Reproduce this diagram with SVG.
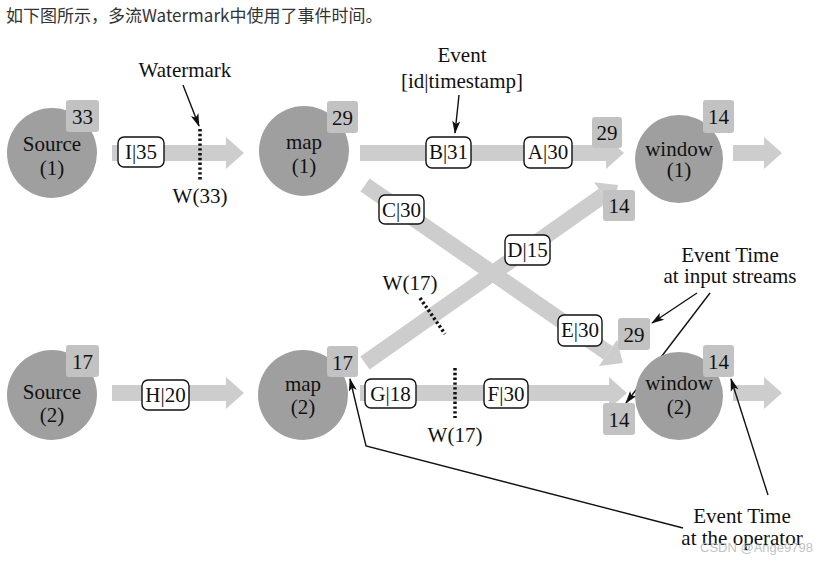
<svg xmlns="http://www.w3.org/2000/svg" width="832" height="562" viewBox="0 0 832 562">
<style>
.t{font-family:"Liberation Serif","Times New Roman",serif;font-size:21px;fill:#111;text-anchor:middle}
.band{stroke:#cdcdcd;stroke-width:16;fill:none}
.node{fill:#9f9f9f}
.badge{fill:#c2c2c2}
.lbl{fill:#fff;stroke:#111;stroke-width:1.4}
.dot{stroke:#111;stroke-width:3.5;stroke-dasharray:2.4 2.4;fill:none}
.ptr{stroke:#111;stroke-width:1.4;fill:none}
</style>
<defs>
<marker id="bh" markerUnits="userSpaceOnUse" markerWidth="20" markerHeight="32" refX="0" refY="16" orient="auto" overflow="visible"><path d="M0,0 L18,16 L0,32 Z" fill="#cdcdcd"/></marker>
<marker id="ah" markerUnits="userSpaceOnUse" markerWidth="14" markerHeight="8" refX="12" refY="4" orient="auto" overflow="visible"><path d="M0,0 L13,4 L0,8 L3,4 Z" fill="#111"/></marker>
</defs>
<rect width="832" height="562" fill="#fff"/>
<text x="6" y="22" font-family="'Noto Sans CJK SC','Noto Sans',sans-serif" font-size="17" fill="#333">如下图所示，多流Watermark中使用了事件时间。</text>

<g id="connectors">
<line class="band" x1="112" y1="153" x2="226" y2="153" marker-end="url(#bh)"/>
<line class="band" x1="360" y1="153" x2="606" y2="153" marker-end="url(#bh)"/>
<line class="band" x1="733" y1="153" x2="764" y2="153" marker-end="url(#bh)"/>
<line class="band" x1="365" y1="185" x2="608" y2="352.8" marker-end="url(#bh)"/>
<line class="band" x1="365" y1="363" x2="603.3" y2="195.4" marker-end="url(#bh)"/>
<line class="band" x1="112" y1="393" x2="226" y2="393" marker-end="url(#bh)"/>
<line class="band" x1="360" y1="393" x2="609" y2="393" marker-end="url(#bh)"/>
<line class="band" x1="733" y1="393" x2="764" y2="393" marker-end="url(#bh)"/>

<g id="ev-I"><rect class="lbl" x="118" y="137" width="46" height="30" rx="6"/><text class="t" x="141" y="159">I|35</text></g>
<g id="ev-B"><rect class="lbl" x="426" y="137" width="45" height="31" rx="6"/><text class="t" x="448.5" y="159">B|31</text></g>
<g id="ev-A"><rect class="lbl" x="524" y="137" width="48" height="31" rx="6"/><text class="t" x="548" y="159">A|30</text></g>
<g id="ev-C"><rect class="lbl" x="379" y="195" width="45" height="29" rx="6"/><text class="t" x="401.5" y="217">C|30</text></g>
<g id="ev-D"><rect class="lbl" x="505" y="235" width="45" height="30" rx="6"/><text class="t" x="527.5" y="257">D|15</text></g>
<g id="ev-E"><rect class="lbl" x="558" y="315" width="44" height="31" rx="6"/><text class="t" x="580" y="337">E|30</text></g>
<g id="ev-H"><rect class="lbl" x="142" y="380" width="47" height="30" rx="6"/><text class="t" x="165.5" y="402">H|20</text></g>
<g id="ev-G"><rect class="lbl" x="365" y="379" width="51" height="29" rx="6"/><text class="t" x="390.5" y="401">G|18</text></g>
<g id="ev-F"><rect class="lbl" x="484" y="379" width="44" height="29" rx="6"/><text class="t" x="506" y="401">F|30</text></g>

<g id="wm33"><line class="dot" x1="200" y1="129" x2="200" y2="181"/><text class="t" x="200" y="203">W(33)</text></g>
<g id="wm17a"><line class="dot" x1="420" y1="298" x2="445" y2="334"/><text class="t" x="410" y="290">W(17)</text></g>
<g id="wm17b"><line class="dot" x1="455" y1="368" x2="455" y2="418"/><text class="t" x="455" y="442">W(17)</text></g>

<g id="ann-watermark"><text class="t" x="185" y="77">Watermark</text><line class="ptr" x1="183" y1="85" x2="199" y2="126" marker-end="url(#ah)"/></g>
<g id="ann-event"><text class="t" x="462" y="62">Event</text><text class="t" x="462" y="88">[id|timestamp]</text><line class="ptr" x1="459" y1="95" x2="455" y2="133" marker-end="url(#ah)"/></g>
<g id="ann-input"><text class="t" x="730" y="262">Event Time</text><text class="t" x="730" y="283">at input streams</text>
<line class="ptr" x1="697" y1="293" x2="652" y2="323" marker-end="url(#ah)"/>
<line class="ptr" x1="710" y1="293" x2="626" y2="403" marker-end="url(#ah)"/></g>
<g id="ann-operator"><text class="t" x="742" y="523">Event Time</text><text class="t" x="742" y="545">at the operator</text>
<line class="ptr" x1="768" y1="495" x2="731" y2="379" marker-end="url(#ah)"/>
<polyline class="ptr" points="683,528 366,446 350,379" marker-end="url(#ah)"/></g>
</g>

<g id="source1"><circle class="node" cx="52" cy="153" r="45"/><text class="t" x="52" y="151">Source</text><text class="t" x="52" y="175">(1)</text><rect class="badge" x="66" y="100" width="33" height="32" rx="3"/><text class="t" x="82.5" y="124">33</text></g>
<g id="map1"><circle class="node" cx="304" cy="151" r="45"/><text class="t" x="304" y="149">map</text><text class="t" x="304" y="173">(1)</text><rect class="badge" x="327" y="101" width="31" height="32" rx="3"/><text class="t" x="342.5" y="125">29</text></g>
<g id="window1"><circle class="node" cx="679" cy="159" r="44"/><text class="t" x="679" y="156">window</text><text class="t" x="679" y="177">(1)</text><rect class="badge" x="703" y="100" width="31" height="33" rx="3"/><text class="t" x="718.5" y="124">14</text>
<rect class="badge" x="592" y="117" width="30" height="31" rx="3"/><text class="t" x="607" y="140">29</text>
<rect class="badge" x="603" y="190" width="32" height="31" rx="3"/><text class="t" x="619" y="213">14</text></g>
<g id="source2"><circle class="node" cx="52" cy="395" r="45"/><text class="t" x="52" y="399">Source</text><text class="t" x="52" y="422">(2)</text><rect class="badge" x="66" y="345" width="33" height="32" rx="3"/><text class="t" x="82.5" y="369">17</text></g>
<g id="map2"><circle class="node" cx="303" cy="395" r="45"/><text class="t" x="303" y="391">map</text><text class="t" x="303" y="414">(2)</text><rect class="badge" x="327" y="346" width="31" height="31" rx="3"/><text class="t" x="342.5" y="370">17</text></g>
<g id="window2"><circle class="node" cx="679" cy="396" r="44"/><text class="t" x="679" y="390">window</text><text class="t" x="679" y="414">(2)</text><rect class="badge" x="703" y="345" width="31" height="32" rx="3"/><text class="t" x="718.5" y="369">14</text>
<rect class="badge" x="618" y="318" width="32" height="32" rx="3"/><text class="t" x="634" y="342">29</text>
<rect class="badge" x="603" y="403" width="32" height="32" rx="3"/><text class="t" x="619" y="427">14</text></g>

<text x="700" y="552" font-family="'Liberation Sans',sans-serif" font-size="13" fill="#b8b8b8" opacity="0.85">CSDN @Ange9798</text>
</svg>
